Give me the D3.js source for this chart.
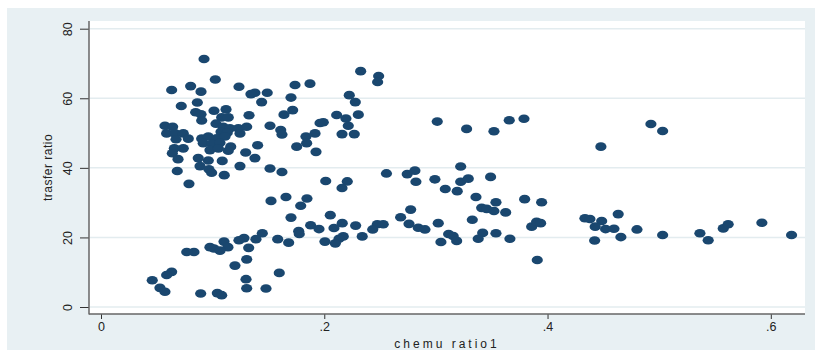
<!DOCTYPE html>
<html>
<head>
<meta charset="utf-8">
<script src="https://cdn.jsdelivr.net/npm/d3@7"></script>
<style>
  html, body { margin: 0; padding: 0; background: #ffffff; }
  svg { display: block; }
  text { font-family: "Liberation Sans", Arial, sans-serif; fill: #222; }
</style>
</head>
<body>
<div id="chart"></div>
<script>
// ---- data ----
const xTicks = [0, 0.2, 0.4, 0.6];
const xTickLabels = ["0", ".2", ".4", ".6"];
const yTicks = [0, 20, 40, 60, 80];
const yTickLabels = ["0", "20", "40", "60", "80"];
const xTitle = "chemu ratio1";
const yTitle = "trasfer ratio";

const chemuRatio1 = [
  0.0633,0.0803,0.0896,0.1024,0.1236,0.1379,0.1489,0.1439,0.0719,0.0863,
  0.0848,0.0896,0.1012,0.1120,0.1326,0.1081,0.1140,0.0902,0.1030,0.0573,
  0.0642,0.0588,0.0663,0.0737,0.1095,0.1155,0.1230,0.1305,0.1514,0.1075,
  0.1131,0.1245,0.0672,0.0782,0.0902,0.0961,0.1036,0.1111,0.0916,0.0991,
  0.1066,0.0657,0.0737,0.0976,0.1051,0.1162,0.1140,0.1403,0.0639,0.1296,
  0.1379,0.0690,0.0871,0.0961,0.1086,0.0887,0.0967,0.1245,0.0683,0.0991,
  0.1104,0.1514,0.1621,0.0923,0.1343,0.1702,0.1738,0.1872,0.2326,0.2487,
  0.2478,0.2224,0.2278,0.2305,0.2111,0.2194,0.2215,0.2159,0.2269,0.1991,
  0.1962,0.1917,0.1836,0.1842,0.1753,0.1926,0.1717,0.1639,0.1610,0.1621,
  0.2013,0.2206,0.2159,0.2557,0.1657,0.1845,0.1523,0.0788,0.1789,0.2054,
  0.1702,0.1878,0.1953,0.2087,0.2161,0.2281,0.2475,0.2340,0.2170,0.2132,
  0.2099,0.2006,0.1771,0.1776,0.1681,0.1583,0.1445,0.1388,0.1281,0.1236,
  0.1323,0.1305,0.1200,0.1102,0.1137,0.1066,0.1012,0.0976,0.0833,0.0768,
  0.0633,0.0588,0.0528,0.0573,0.0459,0.1597,0.1299,0.1305,0.1478,0.0893,
  0.1042,0.1081,0.3012,0.3275,0.3520,0.3657,0.3789,0.4478,0.4926,0.5031,
  0.2743,0.2812,0.2821,0.2991,0.3084,0.3191,0.3222,0.3222,0.3290,0.3490,
  0.3359,0.3538,0.3795,0.3947,0.3410,0.3455,0.3520,0.3625,0.2684,0.2774,
  0.2434,0.2528,0.2759,0.2842,0.2902,0.3021,0.3326,0.3114,0.3155,0.3186,
  0.3045,0.3419,0.3379,0.3538,0.3663,0.3858,0.3902,0.3938,0.3908,0.4335,
  0.4380,0.4485,0.4427,0.4520,0.4595,0.4633,0.4657,0.4422,0.4801,0.5031,
  0.5365,0.5439,0.5574,0.5618,0.5920,0.6186
];
const trasferRatio = [
  62.4,63.5,61.9,65.4,63.3,61.6,61.6,58.9,57.8,58.8,
  56.0,55.4,56.4,56.8,55.1,54.5,54.5,53.6,52.7,52.1,
  51.8,49.9,49.9,49.9,51.8,51.4,51.4,51.8,52.1,50.4,
  50.1,49.9,48.2,48.4,48.4,49.0,48.5,49.0,47.1,46.9,
  47.2,45.6,45.6,45.1,45.6,46.1,44.9,46.5,44.2,44.4,
  42.8,42.5,42.8,42.1,42.0,40.5,39.6,40.5,39.1,38.6,
  37.9,39.8,38.8,71.3,61.2,60.2,63.8,64.2,67.8,66.4,
  64.7,60.9,58.9,55.3,55.2,54.2,52.1,49.7,49.7,53.1,
  52.9,49.9,49.0,47.1,46.1,44.6,56.6,55.3,50.9,49.6,
  36.2,36.1,34.2,38.4,31.6,31.2,30.5,35.4,29.1,26.4,
  25.7,23.5,22.4,22.7,24.1,23.4,23.8,20.3,20.3,19.6,
  18.3,18.8,21.8,21.0,18.5,19.5,21.2,19.5,19.8,19.2,
  17.0,13.7,11.9,18.8,17.2,16.2,16.8,17.2,15.8,15.8,
  10.1,9.2,5.5,4.4,7.7,9.8,8.0,5.4,5.3,3.9,
  4.0,3.4,53.3,51.2,50.5,53.7,54.1,46.1,52.6,50.6,
  38.2,39.2,36.0,36.7,33.9,33.3,40.4,36.0,36.9,37.4,
  31.6,30.1,31.0,30.1,28.5,28.2,27.6,27.2,25.8,28.0,
  22.3,23.8,23.9,22.8,22.3,24.1,25.1,21.0,20.4,19.0,
  18.7,21.3,19.6,21.2,19.6,23.1,24.5,24.1,13.5,25.5,
  25.3,24.7,23.1,22.4,22.5,26.7,20.1,19.1,22.3,20.7,
  21.2,19.2,22.6,23.8,24.2,20.7
];

// ---- layout ----
const W = 815, H = 358;
const plot = { left: 89, right: 805, top: 21, bottom: 314 };

const svg = d3.select("#chart").append("svg")
  .attr("width", W).attr("height", H);

svg.append("rect").attr("x", 0).attr("y", 0).attr("width", W).attr("height", H).attr("fill", "#ffffff");
svg.append("rect").attr("x", 7).attr("y", 8).attr("width", W - 7).attr("height", 342).attr("fill", "#e8f0f3");
svg.append("rect").attr("x", plot.left).attr("y", plot.top)
  .attr("width", plot.right - plot.left).attr("height", plot.bottom - plot.top).attr("fill", "#ffffff");

// scales: 0 -> 101px, 0.2 -> 324.3px ; 0 -> 307px, 80 -> 28.7px
const x = d3.scaleLinear().domain([0, 0.6]).range([101, 770.8]);
const y = d3.scaleLinear().domain([0, 80]).range([307, 28.7]);

// gridlines
svg.append("g").selectAll("line").data(yTicks).join("line")
  .attr("x1", plot.left + 1).attr("x2", plot.right)
  .attr("y1", d => y(d)).attr("y2", d => y(d))
  .attr("stroke", "#e3ecef").attr("stroke-width", 1.5);

// points
svg.append("g").selectAll("ellipse").data(chemuRatio1.map((v, i) => [v, trasferRatio[i]]))
  .join("ellipse")
  .attr("cx", d => x(d[0])).attr("cy", d => y(d[1]))
  .attr("rx", 5.6).attr("ry", 4.3)
  .attr("fill", "#1a476f");

// y axis
const yAxis = d3.axisLeft(y).tickValues(yTicks).tickSize(9).tickFormat((d, i) => yTickLabels[i]);
const gy = svg.append("g").attr("transform", `translate(${plot.left},0)`).call(yAxis);
gy.select(".domain").remove();
gy.selectAll(".tick line").attr("stroke", "#333");
gy.selectAll(".tick text")
  .attr("x", 0).attr("y", 0).attr("dy", "0.35em")
  .attr("transform", "translate(-21,0) rotate(-90)")
  .attr("text-anchor", "middle")
  .attr("font-size", 12.5).attr("fill", "#222");
svg.append("line").attr("x1", plot.left).attr("x2", plot.left).attr("y1", plot.top).attr("y2", plot.bottom + 0.5)
  .attr("stroke", "#666").attr("stroke-width", 1.5);

// x axis
const xAxis = d3.axisBottom(x).tickValues(xTicks).tickSize(5).tickFormat((d, i) => xTickLabels[i]).tickPadding(3);
const gx = svg.append("g").attr("transform", `translate(0,${plot.bottom})`).call(xAxis);
gx.select(".domain").remove();
gx.selectAll(".tick line").attr("stroke", "#333");
gx.selectAll(".tick text").attr("font-size", 12.5).attr("fill", "#222");
svg.append("line").attr("x1", plot.left).attr("x2", plot.right).attr("y1", plot.bottom).attr("y2", plot.bottom)
  .attr("stroke", "#666").attr("stroke-width", 1.5);

// titles
svg.append("text").attr("x", (plot.left + plot.right) / 2).attr("y", 348)
  .attr("text-anchor", "middle").attr("font-size", 12).style("letter-spacing", "3px")
  .text(xTitle);
svg.append("text").attr("transform", `translate(52,${(plot.top + plot.bottom) / 2}) rotate(-90)`)
  .attr("text-anchor", "middle").attr("font-size", 12).style("letter-spacing", "0.5px")
  .text(yTitle);
</script>
</body>
</html>
